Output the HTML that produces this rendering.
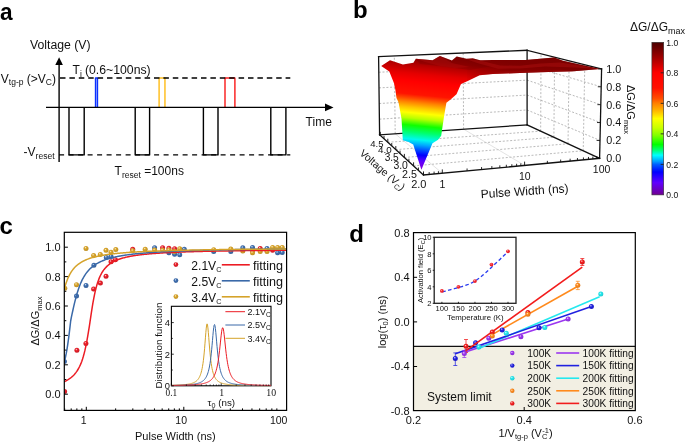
<!DOCTYPE html>
<html><head><meta charset="utf-8"><style>
html,body{margin:0;padding:0;background:#fff;}
svg{display:block;will-change:transform;}
</style></head><body>
<svg width="685" height="443" viewBox="0 0 685 443">
<defs>
<clipPath id="clipc"><rect x="64.3" y="232.3" width="222.3" height="178.09999999999997"/></clipPath>

<linearGradient id="gplat" gradientUnits="userSpaceOnUse" x1="462" y1="0" x2="510" y2="0">
<stop offset="0" stop-color="#7c0000" stop-opacity="0"/>
<stop offset="1" stop-color="#7c0000" stop-opacity="0.55"/>
</linearGradient>
<linearGradient id="gsurf" gradientUnits="userSpaceOnUse" x1="400" y1="40" x2="387.13" y2="168.7">
<stop offset="0.0000" stop-color="#760000"/>
<stop offset="0.0923" stop-color="#820000"/>
<stop offset="0.1385" stop-color="#920000"/>
<stop offset="0.1846" stop-color="#b80000"/>
<stop offset="0.2462" stop-color="#e40000"/>
<stop offset="0.3077" stop-color="#ff0000"/>
<stop offset="0.4077" stop-color="#ff1400"/>
<stop offset="0.4385" stop-color="#ff4a00"/>
<stop offset="0.4692" stop-color="#ff8400"/>
<stop offset="0.5077" stop-color="#ffc400"/>
<stop offset="0.5500" stop-color="#ffff00"/>
<stop offset="0.5923" stop-color="#b8ff00"/>
<stop offset="0.6462" stop-color="#10ff00"/>
<stop offset="0.7000" stop-color="#00ff70"/>
<stop offset="0.7538" stop-color="#00f8f0"/>
<stop offset="0.7923" stop-color="#00a8ff"/>
<stop offset="0.8308" stop-color="#0050ff"/>
<stop offset="0.8692" stop-color="#0000ff"/>
<stop offset="0.9154" stop-color="#5a00ff"/>
<stop offset="0.9692" stop-color="#8000e0"/>
</linearGradient>
<linearGradient id="gbar" x1="0" y1="0" x2="0" y2="1">
<stop offset="0" stop-color="#4a0000"/>
<stop offset="0.1" stop-color="#a00000"/>
<stop offset="0.2" stop-color="#ff0000"/>
<stop offset="0.3" stop-color="#ff1000"/>
<stop offset="0.37" stop-color="#ff5000"/>
<stop offset="0.4" stop-color="#ff8000"/>
<stop offset="0.45" stop-color="#ffb800"/>
<stop offset="0.5" stop-color="#ffff00"/>
<stop offset="0.56" stop-color="#c8ff00"/>
<stop offset="0.61" stop-color="#80ff00"/>
<stop offset="0.67" stop-color="#00ff00"/>
<stop offset="0.71" stop-color="#00ff80"/>
<stop offset="0.74" stop-color="#00ffff"/>
<stop offset="0.78" stop-color="#00a0ff"/>
<stop offset="0.8" stop-color="#0060ff"/>
<stop offset="0.85" stop-color="#0000ff"/>
<stop offset="0.92" stop-color="#6000ff"/>
<stop offset="1" stop-color="#700090"/>
</linearGradient>

<radialGradient id="bg0" cx="0.45" cy="0.45" r="0.6" fx="0.38" fy="0.32"><stop offset="0" stop-color="#fad2d4"/><stop offset="0.38" stop-color="#e8202a"/><stop offset="1" stop-color="#c71b24"/></radialGradient><radialGradient id="bg1" cx="0.45" cy="0.45" r="0.6" fx="0.38" fy="0.32"><stop offset="0" stop-color="#d8e2ef"/><stop offset="0.38" stop-color="#3f6fb0"/><stop offset="1" stop-color="#365f97"/></radialGradient><radialGradient id="bg2" cx="0.45" cy="0.45" r="0.6" fx="0.38" fy="0.32"><stop offset="0" stop-color="#f7edd4"/><stop offset="0.38" stop-color="#d9a52a"/><stop offset="1" stop-color="#ba8d24"/></radialGradient><radialGradient id="bg3" cx="0.45" cy="0.45" r="0.6" fx="0.38" fy="0.32"><stop offset="0" stop-color="#d2d2f8"/><stop offset="0.38" stop-color="#2020e0"/><stop offset="1" stop-color="#1b1bc0"/></radialGradient><radialGradient id="bg4" cx="0.45" cy="0.45" r="0.6" fx="0.38" fy="0.32"><stop offset="0" stop-color="#ebd6fc"/><stop offset="0.38" stop-color="#9b36f0"/><stop offset="1" stop-color="#852ece"/></radialGradient><radialGradient id="bg5" cx="0.45" cy="0.45" r="0.6" fx="0.38" fy="0.32"><stop offset="0" stop-color="#d3fafb"/><stop offset="0.38" stop-color="#25e8ee"/><stop offset="1" stop-color="#1fc7cc"/></radialGradient><radialGradient id="bg6" cx="0.45" cy="0.45" r="0.6" fx="0.38" fy="0.32"><stop offset="0" stop-color="#fcd1d1"/><stop offset="0.38" stop-color="#f21c1c"/><stop offset="1" stop-color="#d01818"/></radialGradient><radialGradient id="bg7" cx="0.45" cy="0.45" r="0.6" fx="0.38" fy="0.32"><stop offset="0" stop-color="#ffe7d1"/><stop offset="0.38" stop-color="#ff8a1c"/><stop offset="1" stop-color="#db7618"/></radialGradient>
</defs>
<rect width="685" height="443" fill="#fff"/>
<text x="0.00" y="20.20" font-size="24" text-anchor="start" font-weight="bold" fill="#000" font-family='"Liberation Sans", sans-serif' textLength="12.6" lengthAdjust="spacingAndGlyphs">a</text>
<text x="30.00" y="49.40" font-size="12" text-anchor="start" font-weight="normal" fill="#111" font-family='"Liberation Sans", sans-serif' textLength="60.6" lengthAdjust="spacingAndGlyphs">Voltage (V)</text>
<polyline points="95.55,107.40 95.55,78.00 97.45,78.00 97.45,107.40" fill="none" stroke="#0a30ff" stroke-width="1.45" stroke-linejoin="round" />
<polyline points="159.10,107.40 159.10,78.00 164.95,78.00 164.95,107.40" fill="none" stroke="#ffbe1e" stroke-width="1.45" stroke-linejoin="round" />
<polyline points="225.00,107.40 225.00,78.00 234.90,78.00 234.90,107.40" fill="none" stroke="#fa2020" stroke-width="1.45" stroke-linejoin="round" />
<line x1="59.10" y1="78.00" x2="290.30" y2="78.00" stroke="#000" stroke-width="1.4" stroke-dasharray="5.5 3.9" stroke-dashoffset="-0.9"/>
<line x1="59.10" y1="154.90" x2="290.30" y2="154.90" stroke="#000" stroke-width="1.4" stroke-dasharray="5.0 4.5"/>
<polyline points="69.00,107.40 69.00,154.90 84.20,154.90 84.20,107.40" fill="none" stroke="#000" stroke-width="1.4" stroke-linejoin="round" />
<polyline points="135.20,107.40 135.20,154.90 149.60,154.90 149.60,107.40" fill="none" stroke="#000" stroke-width="1.4" stroke-linejoin="round" />
<polyline points="203.40,107.40 203.40,154.90 218.00,154.90 218.00,107.40" fill="none" stroke="#000" stroke-width="1.4" stroke-linejoin="round" />
<polyline points="270.80,107.40 270.80,154.90 285.90,154.90 285.90,107.40" fill="none" stroke="#000" stroke-width="1.4" stroke-linejoin="round" />
<line x1="59.10" y1="63.00" x2="59.10" y2="162.00" stroke="#000" stroke-width="1.4" />
<polygon points="59.10,57.20 55.30,65.00 62.90,65.00" fill="#000" stroke="none" stroke-width="1.0" />
<line x1="46.00" y1="107.40" x2="326.00" y2="107.40" stroke="#000" stroke-width="1.4" />
<polygon points="333.50,107.40 325.00,103.60 325.00,111.20" fill="#000" stroke="none" stroke-width="1.0" />
<text x="0.8" y="82.6" font-size="12" fill="#111" font-family='"Liberation Sans", sans-serif'>V<tspan font-size="8.5" dy="2.4">tg-p</tspan><tspan dy="-2.4"> (&gt;V</tspan><tspan font-size="8.5" dy="2.4">C</tspan><tspan dy="-2.4">)</tspan></text>
<text x="72.6" y="74.3" font-size="12" fill="#111" font-family='"Liberation Sans", sans-serif'>T<tspan font-size="8.5" dy="2.4">i</tspan></text>
<text x="84.9" y="74.3" font-size="12" fill="#111" font-family='"Liberation Sans", sans-serif' textLength="65.8" lengthAdjust="spacingAndGlyphs">(0.6~100ns)</text>
<text x="23.6" y="156.0" font-size="12" fill="#111" font-family='"Liberation Sans", sans-serif'>-V<tspan font-size="8.5" dy="2.8">reset</tspan></text>
<text x="114.6" y="174.8" font-size="12" fill="#111" font-family='"Liberation Sans", sans-serif'>T<tspan font-size="8.5" dy="2.7">reset</tspan><tspan dy="-2.7"> =100ns</tspan></text>
<text x="305.60" y="126.30" font-size="12" text-anchor="start" font-weight="normal" fill="#111" font-family='"Liberation Sans", sans-serif' >Time</text>
<text x="-0.60" y="234.30" font-size="24" text-anchor="start" font-weight="bold" fill="#000" font-family='"Liberation Sans", sans-serif' >c</text>
<g clip-path="url(#clipc)">
<circle cx="64.60" cy="391.40" r="2.5" fill="url(#bg0)"/>
<circle cx="76.90" cy="350.20" r="2.5" fill="url(#bg0)"/>
<circle cx="85.90" cy="343.40" r="2.5" fill="url(#bg0)"/>
<circle cx="93.60" cy="289.00" r="2.5" fill="url(#bg0)"/>
<circle cx="100.40" cy="283.10" r="2.5" fill="url(#bg0)"/>
<circle cx="106.00" cy="276.30" r="2.5" fill="url(#bg0)"/>
<circle cx="111.00" cy="261.80" r="2.5" fill="url(#bg0)"/>
<circle cx="115.40" cy="259.70" r="2.5" fill="url(#bg0)"/>
<circle cx="132.70" cy="249.20" r="2.5" fill="url(#bg0)"/>
<circle cx="162.60" cy="247.70" r="2.5" fill="url(#bg0)"/>
<circle cx="168.90" cy="248.20" r="2.5" fill="url(#bg0)"/>
<circle cx="174.60" cy="248.70" r="2.5" fill="url(#bg0)"/>
<circle cx="252.50" cy="250.00" r="2.5" fill="url(#bg0)"/>
<circle cx="260.20" cy="248.40" r="2.5" fill="url(#bg0)"/>
<circle cx="267.00" cy="250.00" r="2.5" fill="url(#bg0)"/>
<circle cx="272.60" cy="250.30" r="2.5" fill="url(#bg0)"/>
<circle cx="64.40" cy="361.50" r="2.5" fill="url(#bg1)"/>
<circle cx="76.50" cy="296.10" r="2.5" fill="url(#bg1)"/>
<circle cx="86.00" cy="285.40" r="2.5" fill="url(#bg1)"/>
<circle cx="93.90" cy="265.30" r="2.5" fill="url(#bg1)"/>
<circle cx="106.30" cy="257.40" r="2.5" fill="url(#bg1)"/>
<circle cx="111.00" cy="256.60" r="2.5" fill="url(#bg1)"/>
<circle cx="154.60" cy="247.70" r="2.5" fill="url(#bg1)"/>
<circle cx="168.90" cy="252.80" r="2.5" fill="url(#bg1)"/>
<circle cx="174.60" cy="254.30" r="2.5" fill="url(#bg1)"/>
<circle cx="179.70" cy="254.80" r="2.5" fill="url(#bg1)"/>
<circle cx="184.30" cy="249.20" r="2.5" fill="url(#bg1)"/>
<circle cx="213.70" cy="251.50" r="2.5" fill="url(#bg1)"/>
<circle cx="230.80" cy="251.50" r="2.5" fill="url(#bg1)"/>
<circle cx="242.80" cy="247.80" r="2.5" fill="url(#bg1)"/>
<circle cx="252.50" cy="247.40" r="2.5" fill="url(#bg1)"/>
<circle cx="267.00" cy="248.40" r="2.5" fill="url(#bg1)"/>
<circle cx="277.60" cy="252.80" r="2.5" fill="url(#bg1)"/>
<circle cx="282.20" cy="252.50" r="2.5" fill="url(#bg1)"/>
<circle cx="64.80" cy="288.20" r="2.5" fill="url(#bg2)"/>
<circle cx="76.50" cy="284.70" r="2.5" fill="url(#bg2)"/>
<circle cx="86.00" cy="248.40" r="2.5" fill="url(#bg2)"/>
<circle cx="93.60" cy="255.50" r="2.5" fill="url(#bg2)"/>
<circle cx="100.30" cy="254.50" r="2.5" fill="url(#bg2)"/>
<circle cx="106.00" cy="250.30" r="2.5" fill="url(#bg2)"/>
<circle cx="111.00" cy="252.20" r="2.5" fill="url(#bg2)"/>
<circle cx="115.80" cy="249.50" r="2.5" fill="url(#bg2)"/>
<circle cx="132.70" cy="250.80" r="2.5" fill="url(#bg2)"/>
<circle cx="145.20" cy="249.20" r="2.5" fill="url(#bg2)"/>
<circle cx="154.60" cy="250.10" r="2.5" fill="url(#bg2)"/>
<circle cx="162.60" cy="250.30" r="2.5" fill="url(#bg2)"/>
<circle cx="168.90" cy="250.10" r="2.5" fill="url(#bg2)"/>
<circle cx="174.60" cy="251.40" r="2.5" fill="url(#bg2)"/>
<circle cx="179.70" cy="248.70" r="2.5" fill="url(#bg2)"/>
<circle cx="213.70" cy="249.70" r="2.5" fill="url(#bg2)"/>
<circle cx="230.80" cy="249.00" r="2.5" fill="url(#bg2)"/>
<circle cx="242.80" cy="250.90" r="2.5" fill="url(#bg2)"/>
<circle cx="252.50" cy="252.80" r="2.5" fill="url(#bg2)"/>
<circle cx="260.20" cy="251.50" r="2.5" fill="url(#bg2)"/>
<circle cx="267.00" cy="251.50" r="2.5" fill="url(#bg2)"/>
<circle cx="272.60" cy="247.40" r="2.5" fill="url(#bg2)"/>
<circle cx="277.60" cy="247.40" r="2.5" fill="url(#bg2)"/>
<circle cx="282.20" cy="247.40" r="2.5" fill="url(#bg2)"/>
<polyline points="63.96,381.81 64.70,381.47 65.45,381.10 66.19,380.72 66.93,380.31 67.68,379.88 68.42,379.42 69.17,378.93 69.91,378.41 70.66,377.85 71.40,377.25 72.14,376.62 72.89,375.93 73.63,375.19 74.38,374.40 75.12,373.53 75.87,372.60 76.61,371.58 77.35,370.48 78.10,369.27 78.84,367.94 79.59,366.49 80.33,364.88 81.07,363.11 81.82,361.15 82.56,358.98 83.31,356.57 84.05,353.89 84.80,350.93 85.54,347.66 86.28,344.07 87.03,340.15 87.77,335.93 88.52,331.44 89.26,326.76 90.01,321.97 90.75,316.92 91.49,311.95 92.24,307.19 92.98,302.72 93.73,298.59 94.47,294.82 95.21,291.40 95.96,288.33 96.70,285.57 97.45,283.10 98.19,280.89 98.94,278.90 99.68,277.11 100.42,275.50 101.17,274.04 101.91,272.72 102.66,271.52 103.40,270.42 104.14,269.42 104.89,268.50 105.63,267.65 106.38,266.87 107.12,266.15 107.87,265.48 108.61,264.86 109.35,264.27 110.10,263.73 110.84,263.23 111.59,262.75 112.33,262.30 113.08,261.89 113.82,261.49 114.56,261.12 115.31,260.76 116.05,260.43 116.80,260.11 117.54,259.81 118.28,259.53 119.03,259.26 119.77,259.00 120.52,258.75 121.26,258.52 122.01,258.29 122.75,258.08 123.49,257.87 124.24,257.68 124.98,257.49 125.73,257.31 126.47,257.13 127.22,256.96 127.96,256.80 128.70,256.65 129.45,256.50 130.19,256.36 130.94,256.22 131.68,256.08 132.42,255.95 133.17,255.83 133.91,255.71 134.66,255.59 135.40,255.48 136.15,255.37 136.89,255.26 137.63,255.16 138.38,255.06 139.12,254.96 139.87,254.87 140.61,254.78 141.35,254.69 142.10,254.60 142.84,254.52 143.59,254.44 144.33,254.36 145.08,254.28 145.82,254.20 146.56,254.13 147.31,254.06 148.05,253.99 148.80,253.92 149.54,253.86 150.29,253.79 151.03,253.73 151.77,253.67 152.52,253.61 153.26,253.55 154.01,253.49 154.75,253.44 155.49,253.38 156.24,253.33 156.98,253.28 157.73,253.22 158.47,253.17 159.22,253.13 159.96,253.08 160.70,253.03 161.45,252.98 162.19,252.94 162.94,252.90 163.68,252.85 164.43,252.81 165.17,252.77 165.91,252.73 166.66,252.69 167.40,252.65 168.15,252.61 168.89,252.57 169.63,252.54 170.38,252.50 171.12,252.46 171.87,252.43 172.61,252.39 173.36,252.36 174.10,252.33 174.84,252.29 175.59,252.26 176.33,252.23 177.08,252.20 177.82,252.17 178.56,252.14 179.31,252.11 180.05,252.08 180.80,252.05 181.54,252.02 182.29,252.00 183.03,251.97 183.77,251.94 184.52,251.92 185.26,251.89 186.01,251.87 186.75,251.84 187.50,251.82 188.24,251.79 188.98,251.77 189.73,251.74 190.47,251.72 191.22,251.70 191.96,251.67 192.70,251.65 193.45,251.63 194.19,251.61 194.94,251.59 195.68,251.57 196.43,251.55 197.17,251.53 197.91,251.51 198.66,251.49 199.40,251.47 200.15,251.45 200.89,251.43 201.64,251.41 202.38,251.39 203.12,251.37 203.87,251.35 204.61,251.34 205.36,251.32 206.10,251.30 206.84,251.28 207.59,251.27 208.33,251.25 209.08,251.23 209.82,251.22 210.57,251.20 211.31,251.18 212.05,251.17 212.80,251.15 213.54,251.14 214.29,251.12 215.03,251.11 215.77,251.09 216.52,251.08 217.26,251.06 218.01,251.05 218.75,251.04 219.50,251.02 220.24,251.01 220.98,250.99 221.73,250.98 222.47,250.97 223.22,250.95 223.96,250.94 224.71,250.93 225.45,250.91 226.19,250.90 226.94,250.89 227.68,250.88 228.43,250.86 229.17,250.85 229.91,250.84 230.66,250.83 231.40,250.82 232.15,250.81 232.89,250.79 233.64,250.78 234.38,250.77 235.12,250.76 235.87,250.75 236.61,250.74 237.36,250.73 238.10,250.72 238.85,250.71 239.59,250.70 240.33,250.69 241.08,250.68 241.82,250.66 242.57,250.65 243.31,250.64 244.05,250.64 244.80,250.63 245.54,250.62 246.29,250.61 247.03,250.60 247.78,250.59 248.52,250.58 249.26,250.57 250.01,250.56 250.75,250.55 251.50,250.54 252.24,250.53 252.98,250.52 253.73,250.51 254.47,250.51 255.22,250.50 255.96,250.49 256.71,250.48 257.45,250.47 258.19,250.46 258.94,250.46 259.68,250.45 260.43,250.44 261.17,250.43 261.92,250.42 262.66,250.42 263.40,250.41 264.15,250.40 264.89,250.39 265.64,250.38 266.38,250.38 267.12,250.37 267.87,250.36 268.61,250.35 269.36,250.35 270.10,250.34 270.85,250.33 271.59,250.33 272.33,250.32 273.08,250.31 273.82,250.31 274.57,250.30 275.31,250.29 276.06,250.28 276.80,250.28 277.54,250.27 278.29,250.26 279.03,250.26 279.78,250.25 280.52,250.25 281.26,250.24 282.01,250.23 282.75,250.23 283.50,250.22 284.24,250.21 284.99,250.21 285.73,250.20 286.47,250.20 287.22,250.19" fill="none" stroke="#ec1c24" stroke-width="1.5" stroke-linejoin="round" />
<polyline points="63.96,363.05 64.70,360.36 65.45,357.26 66.19,353.70 66.93,349.61 67.68,344.94 68.42,339.67 69.17,333.84 69.91,327.55 70.66,320.99 71.40,317.21 72.14,313.68 72.89,310.23 73.63,306.89 74.38,303.69 75.12,300.64 75.87,297.76 76.61,295.05 77.35,292.52 78.10,290.17 78.84,287.98 79.59,285.94 80.33,284.06 81.07,282.31 81.82,280.69 82.56,279.19 83.31,277.80 84.05,276.50 84.80,275.30 85.54,274.18 86.28,273.13 87.03,272.16 87.77,271.25 88.52,270.39 89.26,269.59 90.01,268.84 90.75,268.13 91.49,267.46 92.24,266.83 92.98,266.24 93.73,265.68 94.47,265.15 95.21,264.64 95.96,264.17 96.70,263.71 97.45,263.28 98.19,262.87 98.94,262.48 99.68,262.10 100.42,261.75 101.17,261.41 101.91,261.08 102.66,260.77 103.40,260.47 104.14,260.18 104.89,259.90 105.63,259.64 106.38,259.39 107.12,259.14 107.87,258.90 108.61,258.68 109.35,258.46 110.10,258.25 110.84,258.04 111.59,257.85 112.33,257.66 113.08,257.47 113.82,257.30 114.56,257.12 115.31,256.96 116.05,256.80 116.80,256.64 117.54,256.49 118.28,256.34 119.03,256.20 119.77,256.06 120.52,255.93 121.26,255.80 122.01,255.67 122.75,255.55 123.49,255.43 124.24,255.31 124.98,255.20 125.73,255.08 126.47,254.98 127.22,254.87 127.96,254.77 128.70,254.67 129.45,254.57 130.19,254.48 130.94,254.38 131.68,254.29 132.42,254.20 133.17,254.12 133.91,254.03 134.66,253.95 135.40,253.87 136.15,253.79 136.89,253.71 137.63,253.64 138.38,253.56 139.12,253.49 139.87,253.42 140.61,253.35 141.35,253.28 142.10,253.22 142.84,253.15 143.59,253.09 144.33,253.03 145.08,252.97 145.82,252.91 146.56,252.85 147.31,252.79 148.05,252.73 148.80,252.68 149.54,252.62 150.29,252.57 151.03,252.52 151.77,252.46 152.52,252.41 153.26,252.36 154.01,252.31 154.75,252.27 155.49,252.22 156.24,252.17 156.98,252.13 157.73,252.08 158.47,252.04 159.22,251.99 159.96,251.95 160.70,251.91 161.45,251.87 162.19,251.83 162.94,251.79 163.68,251.75 164.43,251.71 165.17,251.67 165.91,251.63 166.66,251.60 167.40,251.56 168.15,251.52 168.89,251.49 169.63,251.45 170.38,251.42 171.12,251.39 171.87,251.35 172.61,251.32 173.36,251.29 174.10,251.26 174.84,251.22 175.59,251.19 176.33,251.16 177.08,251.13 177.82,251.10 178.56,251.07 179.31,251.05 180.05,251.02 180.80,250.99 181.54,250.96 182.29,250.93 183.03,250.91 183.77,250.88 184.52,250.85 185.26,250.83 186.01,250.80 186.75,250.78 187.50,250.75 188.24,250.73 188.98,250.70 189.73,250.68 190.47,250.65 191.22,250.63 191.96,250.61 192.70,250.58 193.45,250.56 194.19,250.54 194.94,250.52 195.68,250.50 196.43,250.47 197.17,250.45 197.91,250.43 198.66,250.41 199.40,250.39 200.15,250.37 200.89,250.35 201.64,250.33 202.38,250.31 203.12,250.29 203.87,250.27 204.61,250.25 205.36,250.23 206.10,250.21 206.84,250.20 207.59,250.18 208.33,250.16 209.08,250.14 209.82,250.12 210.57,250.11 211.31,250.09 212.05,250.07 212.80,250.06 213.54,250.04 214.29,250.02 215.03,250.01 215.77,249.99 216.52,249.97 217.26,249.96 218.01,249.94 218.75,249.93 219.50,249.91 220.24,249.90 220.98,249.88 221.73,249.87 222.47,249.85 223.22,249.84 223.96,249.82 224.71,249.81 225.45,249.79 226.19,249.78 226.94,249.76 227.68,249.75 228.43,249.74 229.17,249.72 229.91,249.71 230.66,249.70 231.40,249.68 232.15,249.67 232.89,249.66 233.64,249.64 234.38,249.63 235.12,249.62 235.87,249.61 236.61,249.59 237.36,249.58 238.10,249.57 238.85,249.56 239.59,249.55 240.33,249.53 241.08,249.52 241.82,249.51 242.57,249.50 243.31,249.49 244.05,249.48 244.80,249.46 245.54,249.45 246.29,249.44 247.03,249.43 247.78,249.42 248.52,249.41 249.26,249.40 250.01,249.39 250.75,249.38 251.50,249.37 252.24,249.36 252.98,249.35 253.73,249.34 254.47,249.33 255.22,249.32 255.96,249.31 256.71,249.30 257.45,249.29 258.19,249.28 258.94,249.27 259.68,249.26 260.43,249.25 261.17,249.24 261.92,249.23 262.66,249.22 263.40,249.21 264.15,249.20 264.89,249.19 265.64,249.18 266.38,249.17 267.12,249.17 267.87,249.16 268.61,249.15 269.36,249.14 270.10,249.13 270.85,249.12 271.59,249.11 272.33,249.11 273.08,249.10 273.82,249.09 274.57,249.08 275.31,249.07 276.06,249.06 276.80,249.06 277.54,249.05 278.29,249.04 279.03,249.03 279.78,249.03 280.52,249.02 281.26,249.01 282.01,249.00 282.75,248.99 283.50,248.99 284.24,248.98 284.99,248.97 285.73,248.96 286.47,248.96 287.22,248.95" fill="none" stroke="#3a69a8" stroke-width="1.5" stroke-linejoin="round" />
<polyline points="63.96,290.29 64.70,287.52 65.45,285.01 66.19,282.74 66.93,280.68 67.68,278.81 68.42,277.11 69.17,275.56 69.91,274.15 70.66,272.86 71.40,271.68 72.14,270.59 72.89,269.59 73.63,268.67 74.38,267.82 75.12,267.03 75.87,266.29 76.61,265.61 77.35,264.97 78.10,264.37 78.84,263.81 79.59,263.28 80.33,262.79 81.07,262.32 81.82,261.88 82.56,261.47 83.31,261.08 84.05,260.71 84.80,260.35 85.54,260.02 86.28,259.70 87.03,259.40 87.77,259.11 88.52,258.84 89.26,258.57 90.01,258.32 90.75,258.08 91.49,257.85 92.24,257.63 92.98,257.42 93.73,257.22 94.47,257.02 95.21,256.84 95.96,256.66 96.70,256.48 97.45,256.31 98.19,256.15 98.94,256.00 99.68,255.85 100.42,255.70 101.17,255.56 101.91,255.43 102.66,255.30 103.40,255.17 104.14,255.05 104.89,254.93 105.63,254.81 106.38,254.70 107.12,254.59 107.87,254.48 108.61,254.38 109.35,254.28 110.10,254.19 110.84,254.09 111.59,254.00 112.33,253.91 113.08,253.82 113.82,253.74 114.56,253.66 115.31,253.58 116.05,253.50 116.80,253.42 117.54,253.35 118.28,253.28 119.03,253.21 119.77,253.14 120.52,253.07 121.26,253.00 122.01,252.94 122.75,252.88 123.49,252.82 124.24,252.76 124.98,252.70 125.73,252.64 126.47,252.58 127.22,252.53 127.96,252.47 128.70,252.42 129.45,252.37 130.19,252.32 130.94,252.27 131.68,252.22 132.42,252.17 133.17,252.13 133.91,252.08 134.66,252.04 135.40,251.99 136.15,251.95 136.89,251.91 137.63,251.86 138.38,251.82 139.12,251.78 139.87,251.74 140.61,251.71 141.35,251.67 142.10,251.63 142.84,251.59 143.59,251.56 144.33,251.52 145.08,251.49 145.82,251.45 146.56,251.42 147.31,251.39 148.05,251.35 148.80,251.32 149.54,251.29 150.29,251.26 151.03,251.23 151.77,251.20 152.52,251.17 153.26,251.14 154.01,251.11 154.75,251.08 155.49,251.06 156.24,251.03 156.98,251.00 157.73,250.97 158.47,250.95 159.22,250.92 159.96,250.90 160.70,250.87 161.45,250.85 162.19,250.82 162.94,250.80 163.68,250.78 164.43,250.75 165.17,250.73 165.91,250.71 166.66,250.68 167.40,250.66 168.15,250.64 168.89,250.62 169.63,250.60 170.38,250.58 171.12,250.56 171.87,250.54 172.61,250.52 173.36,250.50 174.10,250.48 174.84,250.46 175.59,250.44 176.33,250.42 177.08,250.40 177.82,250.38 178.56,250.36 179.31,250.35 180.05,250.33 180.80,250.31 181.54,250.29 182.29,250.28 183.03,250.26 183.77,250.24 184.52,250.23 185.26,250.21 186.01,250.19 186.75,250.18 187.50,250.16 188.24,250.15 188.98,250.13 189.73,250.12 190.47,250.10 191.22,250.09 191.96,250.07 192.70,250.06 193.45,250.04 194.19,250.03 194.94,250.01 195.68,250.00 196.43,249.99 197.17,249.97 197.91,249.96 198.66,249.95 199.40,249.93 200.15,249.92 200.89,249.91 201.64,249.89 202.38,249.88 203.12,249.87 203.87,249.86 204.61,249.84 205.36,249.83 206.10,249.82 206.84,249.81 207.59,249.80 208.33,249.78 209.08,249.77 209.82,249.76 210.57,249.75 211.31,249.74 212.05,249.73 212.80,249.72 213.54,249.71 214.29,249.69 215.03,249.68 215.77,249.67 216.52,249.66 217.26,249.65 218.01,249.64 218.75,249.63 219.50,249.62 220.24,249.61 220.98,249.60 221.73,249.59 222.47,249.58 223.22,249.57 223.96,249.56 224.71,249.55 225.45,249.54 226.19,249.53 226.94,249.53 227.68,249.52 228.43,249.51 229.17,249.50 229.91,249.49 230.66,249.48 231.40,249.47 232.15,249.46 232.89,249.45 233.64,249.45 234.38,249.44 235.12,249.43 235.87,249.42 236.61,249.41 237.36,249.40 238.10,249.40 238.85,249.39 239.59,249.38 240.33,249.37 241.08,249.36 241.82,249.36 242.57,249.35 243.31,249.34 244.05,249.33 244.80,249.33 245.54,249.32 246.29,249.31 247.03,249.30 247.78,249.30 248.52,249.29 249.26,249.28 250.01,249.27 250.75,249.27 251.50,249.26 252.24,249.25 252.98,249.25 253.73,249.24 254.47,249.23 255.22,249.23 255.96,249.22 256.71,249.21 257.45,249.21 258.19,249.20 258.94,249.19 259.68,249.19 260.43,249.18 261.17,249.17 261.92,249.17 262.66,249.16 263.40,249.15 264.15,249.15 264.89,249.14 265.64,249.14 266.38,249.13 267.12,249.12 267.87,249.12 268.61,249.11 269.36,249.11 270.10,249.10 270.85,249.09 271.59,249.09 272.33,249.08 273.08,249.08 273.82,249.07 274.57,249.07 275.31,249.06 276.06,249.05 276.80,249.05 277.54,249.04 278.29,249.04 279.03,249.03 279.78,249.03 280.52,249.02 281.26,249.02 282.01,249.01 282.75,249.01 283.50,249.00 284.24,249.00 284.99,248.99 285.73,248.99 286.47,248.98 287.22,248.98" fill="none" stroke="#d5a32a" stroke-width="1.5" stroke-linejoin="round" />
</g>
<rect x="64.3" y="232.3" width="222.3" height="178.09999999999997" fill="none" stroke="#000" stroke-width="1.2"/>
<line x1="64.30" y1="394.20" x2="67.90" y2="394.20" stroke="#000" stroke-width="1.0" />
<line x1="64.30" y1="379.50" x2="66.30" y2="379.50" stroke="#000" stroke-width="1.0" />
<line x1="64.30" y1="364.80" x2="67.90" y2="364.80" stroke="#000" stroke-width="1.0" />
<line x1="64.30" y1="350.10" x2="66.30" y2="350.10" stroke="#000" stroke-width="1.0" />
<line x1="64.30" y1="335.40" x2="67.90" y2="335.40" stroke="#000" stroke-width="1.0" />
<line x1="64.30" y1="320.70" x2="66.30" y2="320.70" stroke="#000" stroke-width="1.0" />
<line x1="64.30" y1="306.00" x2="67.90" y2="306.00" stroke="#000" stroke-width="1.0" />
<line x1="64.30" y1="291.30" x2="66.30" y2="291.30" stroke="#000" stroke-width="1.0" />
<line x1="64.30" y1="276.60" x2="67.90" y2="276.60" stroke="#000" stroke-width="1.0" />
<line x1="64.30" y1="261.90" x2="66.30" y2="261.90" stroke="#000" stroke-width="1.0" />
<line x1="64.30" y1="247.20" x2="67.90" y2="247.20" stroke="#000" stroke-width="1.0" />
<text x="60.60" y="398.10" font-size="11" text-anchor="end" font-weight="normal" fill="#111" font-family='"Liberation Sans", sans-serif' >0.0</text>
<text x="60.60" y="368.70" font-size="11" text-anchor="end" font-weight="normal" fill="#111" font-family='"Liberation Sans", sans-serif' >0.2</text>
<text x="60.60" y="339.30" font-size="11" text-anchor="end" font-weight="normal" fill="#111" font-family='"Liberation Sans", sans-serif' >0.4</text>
<text x="60.60" y="309.90" font-size="11" text-anchor="end" font-weight="normal" fill="#111" font-family='"Liberation Sans", sans-serif' >0.6</text>
<text x="60.60" y="280.50" font-size="11" text-anchor="end" font-weight="normal" fill="#111" font-family='"Liberation Sans", sans-serif' >0.8</text>
<text x="60.60" y="251.10" font-size="11" text-anchor="end" font-weight="normal" fill="#111" font-family='"Liberation Sans", sans-serif' >1.0</text>
<line x1="64.67" y1="410.40" x2="64.67" y2="408.40" stroke="#000" stroke-width="1.0" />
<line x1="71.20" y1="410.40" x2="71.20" y2="408.40" stroke="#000" stroke-width="1.0" />
<line x1="76.85" y1="410.40" x2="76.85" y2="408.40" stroke="#000" stroke-width="1.0" />
<line x1="81.84" y1="410.40" x2="81.84" y2="408.40" stroke="#000" stroke-width="1.0" />
<line x1="86.30" y1="410.40" x2="86.30" y2="406.80" stroke="#000" stroke-width="1.0" />
<line x1="115.65" y1="410.40" x2="115.65" y2="408.40" stroke="#000" stroke-width="1.0" />
<line x1="132.82" y1="410.40" x2="132.82" y2="408.40" stroke="#000" stroke-width="1.0" />
<line x1="145.00" y1="410.40" x2="145.00" y2="408.40" stroke="#000" stroke-width="1.0" />
<line x1="154.45" y1="410.40" x2="154.45" y2="408.40" stroke="#000" stroke-width="1.0" />
<line x1="162.17" y1="410.40" x2="162.17" y2="408.40" stroke="#000" stroke-width="1.0" />
<line x1="168.70" y1="410.40" x2="168.70" y2="408.40" stroke="#000" stroke-width="1.0" />
<line x1="174.35" y1="410.40" x2="174.35" y2="408.40" stroke="#000" stroke-width="1.0" />
<line x1="179.34" y1="410.40" x2="179.34" y2="408.40" stroke="#000" stroke-width="1.0" />
<line x1="183.80" y1="410.40" x2="183.80" y2="406.80" stroke="#000" stroke-width="1.0" />
<line x1="213.15" y1="410.40" x2="213.15" y2="408.40" stroke="#000" stroke-width="1.0" />
<line x1="230.32" y1="410.40" x2="230.32" y2="408.40" stroke="#000" stroke-width="1.0" />
<line x1="242.50" y1="410.40" x2="242.50" y2="408.40" stroke="#000" stroke-width="1.0" />
<line x1="251.95" y1="410.40" x2="251.95" y2="408.40" stroke="#000" stroke-width="1.0" />
<line x1="259.67" y1="410.40" x2="259.67" y2="408.40" stroke="#000" stroke-width="1.0" />
<line x1="266.20" y1="410.40" x2="266.20" y2="408.40" stroke="#000" stroke-width="1.0" />
<line x1="271.85" y1="410.40" x2="271.85" y2="408.40" stroke="#000" stroke-width="1.0" />
<line x1="276.84" y1="410.40" x2="276.84" y2="408.40" stroke="#000" stroke-width="1.0" />
<text x="83.70" y="424.30" font-size="10.5" text-anchor="middle" font-weight="normal" fill="#111" font-family='"Liberation Sans", sans-serif' >1</text>
<text x="181.20" y="424.30" font-size="10.5" text-anchor="middle" font-weight="normal" fill="#111" font-family='"Liberation Sans", sans-serif' >10</text>
<text x="278.70" y="424.30" font-size="10.5" text-anchor="middle" font-weight="normal" fill="#111" font-family='"Liberation Sans", sans-serif' >100</text>
<text x="135.00" y="440.20" font-size="11" text-anchor="start" font-weight="normal" fill="#111" font-family='"Liberation Sans", sans-serif' >Pulse Width (ns)</text>
<text transform="translate(39.2,345.6) rotate(-90)" font-size="11" fill="#111" font-family='"Liberation Sans", sans-serif'>ΔG/ΔG<tspan font-size="7.5" dy="2.5">max</tspan></text>
<circle cx="175.90" cy="264.60" r="2.4" fill="url(#bg0)"/>
<line x1="221.80" y1="264.80" x2="249.80" y2="264.80" stroke="#ec1c24" stroke-width="1.6" />
<text x="191.3" y="269.50" font-size="12.1" fill="#111" font-family='"Liberation Sans", sans-serif'>2.1V<tspan font-size="7.2" dy="2.5">C</tspan></text>
<text x="252.90" y="269.50" font-size="12.6" text-anchor="start" font-weight="normal" fill="#111" font-family='"Liberation Sans", sans-serif' >fitting</text>
<circle cx="175.90" cy="280.60" r="2.4" fill="url(#bg1)"/>
<line x1="221.80" y1="280.80" x2="249.80" y2="280.80" stroke="#3a69a8" stroke-width="1.6" />
<text x="191.3" y="285.50" font-size="12.1" fill="#111" font-family='"Liberation Sans", sans-serif'>2.5V<tspan font-size="7.2" dy="2.5">C</tspan></text>
<text x="252.90" y="285.50" font-size="12.6" text-anchor="start" font-weight="normal" fill="#111" font-family='"Liberation Sans", sans-serif' >fitting</text>
<circle cx="175.90" cy="296.60" r="2.4" fill="url(#bg2)"/>
<line x1="221.80" y1="296.80" x2="249.80" y2="296.80" stroke="#d5a32a" stroke-width="1.6" />
<text x="191.3" y="301.50" font-size="12.1" fill="#111" font-family='"Liberation Sans", sans-serif'>3.4V<tspan font-size="7.2" dy="2.5">C</tspan></text>
<text x="252.90" y="301.50" font-size="12.6" text-anchor="start" font-weight="normal" fill="#111" font-family='"Liberation Sans", sans-serif' >fitting</text>
<rect x="171.4" y="306.3" width="99.6" height="79.5" fill="#fff" stroke="#000" stroke-width="1.1"/>
<polyline points="171.40,385.34 171.81,385.33 172.23,385.31 172.65,385.30 173.06,385.29 173.47,385.28 173.89,385.26 174.31,385.25 174.72,385.24 175.14,385.22 175.55,385.21 175.97,385.19 176.38,385.18 176.80,385.16 177.21,385.14 177.62,385.12 178.04,385.10 178.46,385.08 178.87,385.06 179.28,385.04 179.70,385.02 180.12,384.99 180.53,384.97 180.94,384.94 181.36,384.91 181.78,384.89 182.19,384.86 182.61,384.82 183.02,384.79 183.44,384.76 183.85,384.72 184.27,384.68 184.68,384.64 185.09,384.59 185.51,384.55 185.93,384.50 186.34,384.45 186.75,384.39 187.17,384.34 187.59,384.28 188.00,384.21 188.42,384.14 188.83,384.07 189.25,383.99 189.66,383.90 190.08,383.81 190.49,383.72 190.91,383.61 191.32,383.50 191.74,383.38 192.15,383.25 192.56,383.11 192.98,382.95 193.40,382.79 193.81,382.60 194.22,382.41 194.64,382.19 195.06,381.95 195.47,381.69 195.88,381.40 196.30,381.09 196.72,380.73 197.13,380.34 197.55,379.90 197.96,379.41 198.38,378.86 198.79,378.23 199.21,377.53 199.62,376.72 200.03,375.80 200.45,374.74 200.87,373.52 201.28,372.11 201.69,370.47 202.11,368.55 202.53,366.31 202.94,363.69 203.36,360.62 203.77,357.04 204.19,352.93 204.60,348.27 205.01,343.16 205.43,337.80 205.84,332.59 206.26,328.10 206.68,325.01 207.09,323.86 207.50,324.90 207.92,327.91 208.34,332.35 208.75,337.54 209.17,342.90 209.58,348.03 210.00,352.72 210.41,356.86 210.82,360.46 211.24,363.55 211.66,366.19 212.07,368.45 212.49,370.38 212.90,372.04 213.31,373.46 213.73,374.69 214.15,375.75 214.56,376.68 214.98,377.49 215.39,378.20 215.81,378.83 216.22,379.39 216.63,379.88 217.05,380.32 217.47,380.71 217.88,381.07 218.30,381.39 218.71,381.68 219.12,381.94 219.54,382.18 219.95,382.40 220.37,382.59 220.78,382.78 221.20,382.94 221.62,383.10 222.03,383.24 222.44,383.37 222.86,383.49 223.28,383.61 223.69,383.71 224.11,383.81 224.52,383.90 224.94,383.98 225.35,384.06 225.76,384.14 226.18,384.21 226.59,384.27 227.01,384.33 227.43,384.39 227.84,384.45 228.25,384.50 228.67,384.55 229.09,384.59 229.50,384.64 229.91,384.68 230.33,384.72 230.75,384.75 231.16,384.79 231.57,384.82 231.99,384.85 232.41,384.88 232.82,384.91 233.24,384.94 233.65,384.97 234.06,384.99 234.48,385.02 234.90,385.04 235.31,385.06 235.73,385.08 236.14,385.10 236.56,385.12 236.97,385.14 237.38,385.16 237.80,385.17 238.22,385.19 238.63,385.21 239.05,385.22 239.46,385.24 239.88,385.25 240.29,385.26 240.71,385.28 241.12,385.29 241.53,385.30 241.95,385.31 242.37,385.33 242.78,385.34 243.19,385.35 243.61,385.36 244.03,385.37 244.44,385.38 244.86,385.39 245.27,385.39 245.69,385.40 246.10,385.41 246.51,385.42 246.93,385.43 247.34,385.43 247.76,385.44 248.18,385.45 248.59,385.46 249.00,385.46 249.42,385.47 249.83,385.48 250.25,385.48 250.67,385.49 251.08,385.49 251.50,385.50 251.91,385.50 252.32,385.51 252.74,385.52 253.15,385.52 253.57,385.53 253.99,385.53 254.40,385.54 254.81,385.54 255.23,385.54 255.64,385.55 256.06,385.55 256.48,385.56 256.89,385.56 257.31,385.56 257.72,385.57 258.13,385.57 258.55,385.58 258.97,385.58 259.38,385.58 259.80,385.59 260.21,385.59 260.62,385.59 261.04,385.60 261.45,385.60 261.87,385.60 262.28,385.61 262.70,385.61 263.12,385.61 263.53,385.61 263.94,385.62 264.36,385.62 264.77,385.62 265.19,385.62 265.61,385.63 266.02,385.63 266.44,385.63 266.85,385.63 267.26,385.64 267.68,385.64 268.10,385.64 268.51,385.64 268.93,385.64 269.34,385.65 269.75,385.65 270.17,385.65 270.58,385.65 271.00,385.65" fill="none" stroke="#d5a32a" stroke-width="1.0" stroke-linejoin="round" />
<polyline points="171.40,385.42 171.81,385.41 172.23,385.41 172.65,385.40 173.06,385.39 173.47,385.38 173.89,385.37 174.31,385.36 174.72,385.36 175.14,385.35 175.55,385.34 175.97,385.33 176.38,385.32 176.80,385.31 177.21,385.29 177.62,385.28 178.04,385.27 178.46,385.26 178.87,385.25 179.28,385.23 179.70,385.22 180.12,385.21 180.53,385.19 180.94,385.18 181.36,385.16 181.78,385.15 182.19,385.13 182.61,385.11 183.02,385.09 183.44,385.07 183.85,385.05 184.27,385.03 184.68,385.01 185.09,384.99 185.51,384.97 185.93,384.94 186.34,384.92 186.75,384.89 187.17,384.87 187.59,384.84 188.00,384.81 188.42,384.78 188.83,384.74 189.25,384.71 189.66,384.67 190.08,384.63 190.49,384.59 190.91,384.55 191.32,384.51 191.74,384.46 192.15,384.41 192.56,384.36 192.98,384.31 193.40,384.25 193.81,384.19 194.22,384.12 194.64,384.05 195.06,383.98 195.47,383.90 195.88,383.82 196.30,383.73 196.72,383.64 197.13,383.54 197.55,383.43 197.96,383.31 198.38,383.19 198.79,383.06 199.21,382.91 199.62,382.76 200.03,382.59 200.45,382.41 200.87,382.21 201.28,382.00 201.69,381.76 202.11,381.51 202.53,381.23 202.94,380.92 203.36,380.58 203.77,380.21 204.19,379.79 204.60,379.33 205.01,378.82 205.43,378.25 205.84,377.60 206.26,376.88 206.68,376.06 207.09,375.14 207.50,374.08 207.92,372.88 208.34,371.50 208.75,369.92 209.17,368.09 209.58,365.99 210.00,363.55 210.41,360.75 210.82,357.53 211.24,353.86 211.66,349.74 212.07,345.22 212.49,340.43 212.90,335.61 213.31,331.14 213.73,327.49 214.15,325.16 214.56,324.52 214.98,325.67 215.39,328.43 215.81,332.37 216.22,336.99 216.63,341.83 217.05,346.57 217.47,350.98 217.88,354.97 218.30,358.50 218.71,361.60 219.12,364.29 219.54,366.63 219.95,368.65 220.37,370.40 220.78,371.92 221.20,373.25 221.62,374.40 222.03,375.42 222.44,376.31 222.86,377.10 223.28,377.80 223.69,378.42 224.11,378.97 224.52,379.47 224.94,379.92 225.35,380.32 225.76,380.68 226.18,381.01 226.59,381.31 227.01,381.58 227.43,381.83 227.84,382.06 228.25,382.27 228.67,382.46 229.09,382.64 229.50,382.80 229.91,382.96 230.33,383.10 230.75,383.23 231.16,383.35 231.57,383.46 231.99,383.57 232.41,383.67 232.82,383.76 233.24,383.85 233.65,383.93 234.06,384.00 234.48,384.07 234.90,384.14 235.31,384.21 235.73,384.27 236.14,384.32 236.56,384.38 236.97,384.43 237.38,384.48 237.80,384.52 238.22,384.57 238.63,384.61 239.05,384.65 239.46,384.68 239.88,384.72 240.29,384.75 240.71,384.79 241.12,384.82 241.53,384.85 241.95,384.87 242.37,384.90 242.78,384.93 243.19,384.95 243.61,384.97 244.03,385.00 244.44,385.02 244.86,385.04 245.27,385.06 245.69,385.08 246.10,385.10 246.51,385.12 246.93,385.13 247.34,385.15 247.76,385.17 248.18,385.18 248.59,385.20 249.00,385.21 249.42,385.22 249.83,385.24 250.25,385.25 250.67,385.26 251.08,385.27 251.50,385.29 251.91,385.30 252.32,385.31 252.74,385.32 253.15,385.33 253.57,385.34 253.99,385.35 254.40,385.36 254.81,385.37 255.23,385.38 255.64,385.38 256.06,385.39 256.48,385.40 256.89,385.41 257.31,385.42 257.72,385.42 258.13,385.43 258.55,385.44 258.97,385.44 259.38,385.45 259.80,385.46 260.21,385.46 260.62,385.47 261.04,385.47 261.45,385.48 261.87,385.49 262.28,385.49 262.70,385.50 263.12,385.50 263.53,385.51 263.94,385.51 264.36,385.52 264.77,385.52 265.19,385.53 265.61,385.53 266.02,385.53 266.44,385.54 266.85,385.54 267.26,385.55 267.68,385.55 268.10,385.55 268.51,385.56 268.93,385.56 269.34,385.57 269.75,385.57 270.17,385.57 270.58,385.58 271.00,385.58" fill="none" stroke="#3a69a8" stroke-width="1.0" stroke-linejoin="round" />
<polyline points="171.40,385.47 171.81,385.46 172.23,385.45 172.65,385.45 173.06,385.44 173.47,385.44 173.89,385.43 174.31,385.42 174.72,385.42 175.14,385.41 175.55,385.40 175.97,385.40 176.38,385.39 176.80,385.38 177.21,385.38 177.62,385.37 178.04,385.36 178.46,385.35 178.87,385.34 179.28,385.33 179.70,385.33 180.12,385.32 180.53,385.31 180.94,385.30 181.36,385.29 181.78,385.28 182.19,385.27 182.61,385.26 183.02,385.24 183.44,385.23 183.85,385.22 184.27,385.21 184.68,385.19 185.09,385.18 185.51,385.17 185.93,385.15 186.34,385.14 186.75,385.12 187.17,385.11 187.59,385.09 188.00,385.07 188.42,385.06 188.83,385.04 189.25,385.02 189.66,385.00 190.08,384.98 190.49,384.96 190.91,384.94 191.32,384.92 191.74,384.89 192.15,384.87 192.56,384.84 192.98,384.82 193.40,384.79 193.81,384.76 194.22,384.73 194.64,384.70 195.06,384.67 195.47,384.63 195.88,384.60 196.30,384.56 196.72,384.52 197.13,384.48 197.55,384.44 197.96,384.39 198.38,384.34 198.79,384.29 199.21,384.24 199.62,384.19 200.03,384.13 200.45,384.07 200.87,384.00 201.28,383.93 201.69,383.86 202.11,383.79 202.53,383.71 202.94,383.62 203.36,383.53 203.77,383.43 204.19,383.33 204.60,383.22 205.01,383.10 205.43,382.98 205.84,382.85 206.26,382.70 206.68,382.55 207.09,382.38 207.50,382.21 207.92,382.02 208.34,381.81 208.75,381.58 209.17,381.34 209.58,381.08 210.00,380.79 210.41,380.48 210.82,380.14 211.24,379.77 211.66,379.35 212.07,378.90 212.49,378.40 212.90,377.85 213.31,377.24 213.73,376.56 214.15,375.80 214.56,374.94 214.98,373.99 215.39,372.92 215.81,371.71 216.22,370.34 216.63,368.79 217.05,367.04 217.47,365.05 217.88,362.79 218.30,360.25 218.71,357.39 219.12,354.20 219.54,350.70 219.95,346.92 220.37,342.95 220.78,338.95 221.20,335.15 221.62,331.83 222.03,329.32 222.44,327.90 222.86,327.75 223.28,328.89 223.69,331.18 224.11,334.34 224.52,338.05 224.94,342.03 225.35,346.02 225.76,349.86 226.18,353.43 226.59,356.69 227.01,359.62 227.43,362.24 227.84,364.56 228.25,366.60 228.67,368.41 229.09,370.00 229.50,371.41 229.91,372.65 230.33,373.76 230.75,374.74 231.16,375.61 231.57,376.39 231.99,377.09 232.41,377.72 232.82,378.28 233.24,378.79 233.65,379.25 234.06,379.67 234.48,380.06 234.90,380.41 235.31,380.72 235.73,381.02 236.14,381.28 236.56,381.53 236.97,381.76 237.38,381.97 237.80,382.16 238.22,382.34 238.63,382.51 239.05,382.67 239.46,382.81 239.88,382.95 240.29,383.08 240.71,383.19 241.12,383.31 241.53,383.41 241.95,383.51 242.37,383.60 242.78,383.69 243.19,383.77 243.61,383.85 244.03,383.92 244.44,383.99 244.86,384.05 245.27,384.11 245.69,384.17 246.10,384.23 246.51,384.28 246.93,384.33 247.34,384.38 247.76,384.43 248.18,384.47 248.59,384.51 249.00,384.55 249.42,384.59 249.83,384.62 250.25,384.66 250.67,384.69 251.08,384.72 251.50,384.75 251.91,384.78 252.32,384.81 252.74,384.84 253.15,384.86 253.57,384.89 253.99,384.91 254.40,384.93 254.81,384.95 255.23,384.98 255.64,385.00 256.06,385.02 256.48,385.03 256.89,385.05 257.31,385.07 257.72,385.09 258.13,385.10 258.55,385.12 258.97,385.14 259.38,385.15 259.80,385.16 260.21,385.18 260.62,385.19 261.04,385.20 261.45,385.22 261.87,385.23 262.28,385.24 262.70,385.25 263.12,385.26 263.53,385.27 263.94,385.28 264.36,385.29 264.77,385.30 265.19,385.31 265.61,385.32 266.02,385.33 266.44,385.34 266.85,385.35 267.26,385.36 267.68,385.37 268.10,385.37 268.51,385.38 268.93,385.39 269.34,385.40 269.75,385.40 270.17,385.41 270.58,385.42 271.00,385.42" fill="none" stroke="#ec1c24" stroke-width="1.0" stroke-linejoin="round" />
<line x1="171.40" y1="385.80" x2="173.80" y2="385.80" stroke="#000" stroke-width="0.8" />
<line x1="171.40" y1="370.00" x2="172.80" y2="370.00" stroke="#000" stroke-width="0.8" />
<line x1="171.40" y1="354.20" x2="173.80" y2="354.20" stroke="#000" stroke-width="0.8" />
<line x1="171.40" y1="338.40" x2="172.80" y2="338.40" stroke="#000" stroke-width="0.8" />
<line x1="171.40" y1="322.60" x2="173.80" y2="322.60" stroke="#000" stroke-width="0.8" />
<text x="170.00" y="389.10" font-size="9.3" text-anchor="end" font-weight="normal" fill="#111" font-family='"Liberation Sans", sans-serif' >0</text>
<text x="170.00" y="357.50" font-size="9.3" text-anchor="end" font-weight="normal" fill="#111" font-family='"Liberation Sans", sans-serif' >2</text>
<text x="170.00" y="325.90" font-size="9.3" text-anchor="end" font-weight="normal" fill="#111" font-family='"Liberation Sans", sans-serif' >4</text>
<line x1="171.40" y1="385.80" x2="171.40" y2="383.40" stroke="#000" stroke-width="0.8" />
<line x1="186.39" y1="385.80" x2="186.39" y2="384.50" stroke="#000" stroke-width="0.8" />
<line x1="195.16" y1="385.80" x2="195.16" y2="384.50" stroke="#000" stroke-width="0.8" />
<line x1="201.38" y1="385.80" x2="201.38" y2="384.50" stroke="#000" stroke-width="0.8" />
<line x1="206.21" y1="385.80" x2="206.21" y2="384.50" stroke="#000" stroke-width="0.8" />
<line x1="210.15" y1="385.80" x2="210.15" y2="384.50" stroke="#000" stroke-width="0.8" />
<line x1="213.49" y1="385.80" x2="213.49" y2="384.50" stroke="#000" stroke-width="0.8" />
<line x1="216.37" y1="385.80" x2="216.37" y2="384.50" stroke="#000" stroke-width="0.8" />
<line x1="218.92" y1="385.80" x2="218.92" y2="384.50" stroke="#000" stroke-width="0.8" />
<line x1="221.20" y1="385.80" x2="221.20" y2="383.40" stroke="#000" stroke-width="0.8" />
<line x1="236.19" y1="385.80" x2="236.19" y2="384.50" stroke="#000" stroke-width="0.8" />
<line x1="244.96" y1="385.80" x2="244.96" y2="384.50" stroke="#000" stroke-width="0.8" />
<line x1="251.18" y1="385.80" x2="251.18" y2="384.50" stroke="#000" stroke-width="0.8" />
<line x1="256.01" y1="385.80" x2="256.01" y2="384.50" stroke="#000" stroke-width="0.8" />
<line x1="259.95" y1="385.80" x2="259.95" y2="384.50" stroke="#000" stroke-width="0.8" />
<line x1="263.29" y1="385.80" x2="263.29" y2="384.50" stroke="#000" stroke-width="0.8" />
<line x1="266.17" y1="385.80" x2="266.17" y2="384.50" stroke="#000" stroke-width="0.8" />
<line x1="268.72" y1="385.80" x2="268.72" y2="384.50" stroke="#000" stroke-width="0.8" />
<text x="171.30" y="395.80" font-size="9.3" text-anchor="middle" font-weight="normal" fill="#111" font-family='"Liberation Serif", serif' >0.1</text>
<text x="221.60" y="395.70" font-size="9.8" text-anchor="middle" font-weight="normal" fill="#111" font-family='"Liberation Serif", serif' >1</text>
<text x="271.20" y="395.70" font-size="9.8" text-anchor="middle" font-weight="normal" fill="#111" font-family='"Liberation Serif", serif' >10</text>
<text x="207.6" y="405.6" font-size="9.8" fill="#111" font-family='"Liberation Sans", sans-serif'>τ<tspan font-size="7.2" dy="2.2">0</tspan><tspan dy="-2.2"> (ns)</tspan></text>
<text transform="translate(162.4,388.6) rotate(-90)" font-size="9.8" fill="#111" font-family='"Liberation Sans", sans-serif'>Distribution function</text>
<line x1="225.40" y1="311.70" x2="245.00" y2="311.70" stroke="#ec1c24" stroke-width="1.0" />
<text x="247.6" y="315.10" font-size="9" fill="#111" font-family='"Liberation Sans", sans-serif'>2.1V<tspan font-size="6.5" dy="2">C</tspan></text>
<line x1="225.40" y1="325.00" x2="245.00" y2="325.00" stroke="#3a69a8" stroke-width="1.0" />
<text x="247.6" y="328.40" font-size="9" fill="#111" font-family='"Liberation Sans", sans-serif'>2.5V<tspan font-size="6.5" dy="2">C</tspan></text>
<line x1="225.40" y1="338.30" x2="245.00" y2="338.30" stroke="#d5a32a" stroke-width="1.0" />
<text x="247.6" y="341.70" font-size="9" fill="#111" font-family='"Liberation Sans", sans-serif'>3.4V<tspan font-size="6.5" dy="2">C</tspan></text>
<text x="349.20" y="242.20" font-size="24" text-anchor="start" font-weight="bold" fill="#000" font-family='"Liberation Sans", sans-serif' >d</text>
<rect x="413.5" y="346.3" width="221.79999999999995" height="64.30000000000001" fill="#f2efe3"/>
<line x1="413.50" y1="346.30" x2="635.30" y2="346.30" stroke="#111" stroke-width="1.3" />
<text x="427.00" y="400.60" font-size="12" text-anchor="start" font-weight="normal" fill="#111" font-family='"Liberation Sans", sans-serif' >System limit</text>
<circle cx="475.60" cy="342.80" r="2.5" fill="url(#bg3)"/>
<line x1="464.50" y1="352.30" x2="568.10" y2="319.00" stroke="#9b36f0" stroke-width="1.6" />
<line x1="477.50" y1="349.00" x2="599.60" y2="296.80" stroke="#25e8ee" stroke-width="1.6" />
<line x1="455.30" y1="353.80" x2="591.40" y2="306.50" stroke="#2020e0" stroke-width="1.6" />
<line x1="492.10" y1="334.60" x2="577.80" y2="286.20" stroke="#ff8a1c" stroke-width="1.6" />
<line x1="465.30" y1="351.10" x2="582.30" y2="267.10" stroke="#f21c1c" stroke-width="1.6" />
<line x1="455.30" y1="352.90" x2="455.30" y2="365.50" stroke="#2020e0" stroke-width="1.0" stroke-opacity="0.75"/>
<line x1="453.30" y1="352.90" x2="457.30" y2="352.90" stroke="#2020e0" stroke-width="1.0" stroke-opacity="0.75"/>
<line x1="453.30" y1="365.50" x2="457.30" y2="365.50" stroke="#2020e0" stroke-width="1.0" stroke-opacity="0.75"/>
<line x1="464.30" y1="350.60" x2="464.30" y2="357.50" stroke="#9b36f0" stroke-width="1.0" stroke-opacity="0.75"/>
<line x1="462.30" y1="350.60" x2="466.30" y2="350.60" stroke="#9b36f0" stroke-width="1.0" stroke-opacity="0.75"/>
<line x1="462.30" y1="357.50" x2="466.30" y2="357.50" stroke="#9b36f0" stroke-width="1.0" stroke-opacity="0.75"/>
<line x1="466.00" y1="339.50" x2="466.00" y2="352.50" stroke="#f21c1c" stroke-width="1.0" stroke-opacity="0.75"/>
<line x1="464.00" y1="339.50" x2="468.00" y2="339.50" stroke="#f21c1c" stroke-width="1.0" stroke-opacity="0.75"/>
<line x1="464.00" y1="352.50" x2="468.00" y2="352.50" stroke="#f21c1c" stroke-width="1.0" stroke-opacity="0.75"/>
<line x1="577.80" y1="281.30" x2="577.80" y2="289.60" stroke="#ff8a1c" stroke-width="1.0" stroke-opacity="0.75"/>
<line x1="575.80" y1="281.30" x2="579.80" y2="281.30" stroke="#ff8a1c" stroke-width="1.0" stroke-opacity="0.75"/>
<line x1="575.80" y1="289.60" x2="579.80" y2="289.60" stroke="#ff8a1c" stroke-width="1.0" stroke-opacity="0.75"/>
<line x1="582.30" y1="258.50" x2="582.30" y2="265.50" stroke="#f21c1c" stroke-width="1.0" stroke-opacity="0.75"/>
<line x1="580.30" y1="258.50" x2="584.30" y2="258.50" stroke="#f21c1c" stroke-width="1.0" stroke-opacity="0.75"/>
<line x1="580.30" y1="265.50" x2="584.30" y2="265.50" stroke="#f21c1c" stroke-width="1.0" stroke-opacity="0.75"/>
<circle cx="464.30" cy="353.60" r="2.5" fill="url(#bg4)"/>
<circle cx="488.80" cy="338.20" r="2.5" fill="url(#bg4)"/>
<circle cx="520.90" cy="336.80" r="2.5" fill="url(#bg4)"/>
<circle cx="568.10" cy="319.00" r="2.5" fill="url(#bg4)"/>
<circle cx="455.30" cy="358.50" r="2.5" fill="url(#bg3)"/>
<circle cx="502.20" cy="329.90" r="2.5" fill="url(#bg3)"/>
<circle cx="539.00" cy="327.80" r="2.5" fill="url(#bg3)"/>
<circle cx="591.40" cy="306.50" r="2.5" fill="url(#bg3)"/>
<circle cx="478.90" cy="347.10" r="2.5" fill="url(#bg5)"/>
<circle cx="506.30" cy="333.30" r="2.5" fill="url(#bg5)"/>
<circle cx="544.80" cy="327.50" r="2.5" fill="url(#bg5)"/>
<circle cx="600.80" cy="294.10" r="2.5" fill="url(#bg5)"/>
<circle cx="466.00" cy="346.30" r="2.5" fill="url(#bg6)"/>
<circle cx="492.30" cy="332.10" r="2.5" fill="url(#bg6)"/>
<circle cx="527.90" cy="312.60" r="2.5" fill="url(#bg6)"/>
<circle cx="582.30" cy="261.90" r="2.5" fill="url(#bg6)"/>
<circle cx="492.30" cy="335.90" r="2.5" fill="url(#bg7)"/>
<circle cx="527.90" cy="314.30" r="2.5" fill="url(#bg7)"/>
<circle cx="577.80" cy="285.30" r="2.5" fill="url(#bg7)"/>
<circle cx="512.30" cy="353.00" r="2.2" fill="url(#bg4)"/>
<text x="527.30" y="356.70" font-size="10.2" text-anchor="start" font-weight="normal" fill="#111" font-family='"Liberation Sans", sans-serif' >100K</text>
<line x1="556.20" y1="353.00" x2="579.20" y2="353.00" stroke="#9b36f0" stroke-width="1.6" />
<text x="582.60" y="356.70" font-size="10.2" text-anchor="start" font-weight="normal" fill="#111" font-family='"Liberation Sans", sans-serif' >100K fitting</text>
<circle cx="512.30" cy="365.60" r="2.2" fill="url(#bg3)"/>
<text x="527.30" y="369.30" font-size="10.2" text-anchor="start" font-weight="normal" fill="#111" font-family='"Liberation Sans", sans-serif' >150K</text>
<line x1="556.20" y1="365.60" x2="579.20" y2="365.60" stroke="#2020e0" stroke-width="1.6" />
<text x="582.60" y="369.30" font-size="10.2" text-anchor="start" font-weight="normal" fill="#111" font-family='"Liberation Sans", sans-serif' >150K fitting</text>
<circle cx="512.30" cy="378.20" r="2.2" fill="url(#bg5)"/>
<text x="527.30" y="381.90" font-size="10.2" text-anchor="start" font-weight="normal" fill="#111" font-family='"Liberation Sans", sans-serif' >200K</text>
<line x1="556.20" y1="378.20" x2="579.20" y2="378.20" stroke="#25e8ee" stroke-width="1.6" />
<text x="582.60" y="381.90" font-size="10.2" text-anchor="start" font-weight="normal" fill="#111" font-family='"Liberation Sans", sans-serif' >200K fitting</text>
<circle cx="512.30" cy="390.80" r="2.2" fill="url(#bg7)"/>
<text x="527.30" y="394.50" font-size="10.2" text-anchor="start" font-weight="normal" fill="#111" font-family='"Liberation Sans", sans-serif' >250K</text>
<line x1="556.20" y1="390.80" x2="579.20" y2="390.80" stroke="#ff8a1c" stroke-width="1.6" />
<text x="582.60" y="394.50" font-size="10.2" text-anchor="start" font-weight="normal" fill="#111" font-family='"Liberation Sans", sans-serif' >250K fitting</text>
<circle cx="512.30" cy="403.40" r="2.2" fill="url(#bg6)"/>
<text x="527.30" y="407.10" font-size="10.2" text-anchor="start" font-weight="normal" fill="#111" font-family='"Liberation Sans", sans-serif' >300K</text>
<line x1="556.20" y1="403.40" x2="579.20" y2="403.40" stroke="#f21c1c" stroke-width="1.6" />
<text x="582.60" y="407.10" font-size="10.2" text-anchor="start" font-weight="normal" fill="#111" font-family='"Liberation Sans", sans-serif' >300K fitting</text>
<rect x="413.5" y="232.6" width="221.79999999999995" height="178.00000000000003" fill="none" stroke="#000" stroke-width="1.2"/>
<line x1="413.50" y1="277.30" x2="417.10" y2="277.30" stroke="#000" stroke-width="1.0" />
<line x1="413.50" y1="321.90" x2="417.10" y2="321.90" stroke="#000" stroke-width="1.0" />
<line x1="413.50" y1="366.50" x2="417.10" y2="366.50" stroke="#000" stroke-width="1.0" />
<text x="409.60" y="236.60" font-size="11" text-anchor="end" font-weight="normal" fill="#111" font-family='"Liberation Sans", sans-serif' >0.8</text>
<text x="409.60" y="281.20" font-size="11" text-anchor="end" font-weight="normal" fill="#111" font-family='"Liberation Sans", sans-serif' >0.4</text>
<text x="409.60" y="325.80" font-size="11" text-anchor="end" font-weight="normal" fill="#111" font-family='"Liberation Sans", sans-serif' >0.0</text>
<text x="409.60" y="370.40" font-size="11" text-anchor="end" font-weight="normal" fill="#111" font-family='"Liberation Sans", sans-serif' >-0.4</text>
<text x="409.60" y="415.00" font-size="11" text-anchor="end" font-weight="normal" fill="#111" font-family='"Liberation Sans", sans-serif' >-0.8</text>
<line x1="524.20" y1="410.60" x2="524.20" y2="407.00" stroke="#000" stroke-width="1.0" />
<text x="413.50" y="423.90" font-size="11" text-anchor="middle" font-weight="normal" fill="#111" font-family='"Liberation Sans", sans-serif' >0.2</text>
<text x="524.20" y="423.90" font-size="11" text-anchor="middle" font-weight="normal" fill="#111" font-family='"Liberation Sans", sans-serif' >0.4</text>
<text x="634.90" y="423.90" font-size="11" text-anchor="middle" font-weight="normal" fill="#111" font-family='"Liberation Sans", sans-serif' >0.6</text>
<text x="498.4" y="436.6" font-size="11" fill="#111" font-family='"Liberation Sans", sans-serif'>1/V<tspan font-size="7.5" dy="2.5">tg-p</tspan><tspan dy="-2.5"> (V</tspan><tspan font-size="7.5" dy="2.5">C</tspan><tspan font-size="7.5" dx="-5.0" dy="-6.6">-1</tspan><tspan dy="4.1">)</tspan></text>
<text transform="translate(385.6,348.2) rotate(-90)" font-size="11" fill="#111" font-family='"Liberation Sans", sans-serif'>log(τ<tspan font-size="7.5" dy="2.5">0</tspan><tspan dy="-2.5">) (ns)</tspan></text>
<rect x="434.2" y="237.3" width="81.80000000000001" height="66.0" fill="#fff" stroke="#222" stroke-width="1.3"/>
<polyline points="442.20,291.90 443.29,291.61 444.39,291.33 445.48,291.04 446.57,290.75 447.67,290.46 448.76,290.17 449.85,289.88 450.95,289.59 452.04,289.29 453.13,289.00 454.23,288.70 455.32,288.41 456.41,288.11 457.51,287.80 458.60,287.50 459.69,287.19 460.79,286.88 461.88,286.56 462.97,286.23 464.07,285.88 465.16,285.52 466.25,285.14 467.35,284.73 468.44,284.30 469.53,283.84 470.63,283.35 471.72,282.82 472.81,282.25 473.91,281.65 475.00,281.00 476.09,280.31 477.19,279.57 478.28,278.79 479.37,277.97 480.47,277.12 481.56,276.24 482.65,275.33 483.75,274.40 484.84,273.44 485.93,272.46 487.03,271.47 488.12,270.47 489.21,269.45 490.31,268.43 491.40,267.40 492.49,266.37 493.59,265.34 494.68,264.31 495.77,263.28 496.87,262.25 497.96,261.22 499.05,260.18 500.15,259.15 501.24,258.11 502.33,257.08 503.43,256.04 504.52,255.01 505.61,253.97 506.71,252.94 507.80,251.90" fill="none" stroke="#2b3ef0" stroke-width="1.35" stroke-linejoin="round" stroke-dasharray="3.6 2.4"/>
<circle cx="441.90" cy="290.93" r="1.9" fill="#f0222a"/>
<circle cx="441.50" cy="290.43" r="0.7" fill="#fff" fill-opacity="0.5"/>
<circle cx="458.42" cy="286.80" r="1.9" fill="#f0222a"/>
<circle cx="458.02" cy="286.30" r="0.7" fill="#fff" fill-opacity="0.5"/>
<circle cx="474.95" cy="281.03" r="1.9" fill="#f0222a"/>
<circle cx="474.55" cy="280.53" r="0.7" fill="#fff" fill-opacity="0.5"/>
<circle cx="491.47" cy="264.53" r="1.9" fill="#f0222a"/>
<circle cx="491.07" cy="264.03" r="0.7" fill="#fff" fill-opacity="0.5"/>
<circle cx="508.00" cy="251.32" r="1.9" fill="#f0222a"/>
<circle cx="507.60" cy="250.82" r="0.7" fill="#fff" fill-opacity="0.5"/>
<line x1="434.20" y1="303.30" x2="432.70" y2="303.30" stroke="#000" stroke-width="0.8" />
<text x="431.60" y="306.00" font-size="7.6" text-anchor="end" font-weight="normal" fill="#111" font-family='"Liberation Sans", sans-serif' >2</text>
<line x1="434.20" y1="286.80" x2="432.70" y2="286.80" stroke="#000" stroke-width="0.8" />
<text x="431.60" y="289.50" font-size="7.6" text-anchor="end" font-weight="normal" fill="#111" font-family='"Liberation Sans", sans-serif' >4</text>
<line x1="434.20" y1="270.30" x2="432.70" y2="270.30" stroke="#000" stroke-width="0.8" />
<text x="431.60" y="273.00" font-size="7.6" text-anchor="end" font-weight="normal" fill="#111" font-family='"Liberation Sans", sans-serif' >6</text>
<line x1="434.20" y1="253.80" x2="432.70" y2="253.80" stroke="#000" stroke-width="0.8" />
<text x="431.60" y="256.50" font-size="7.6" text-anchor="end" font-weight="normal" fill="#111" font-family='"Liberation Sans", sans-serif' >8</text>
<line x1="434.20" y1="237.30" x2="432.70" y2="237.30" stroke="#000" stroke-width="0.8" />
<text x="431.60" y="240.00" font-size="7.6" text-anchor="end" font-weight="normal" fill="#111" font-family='"Liberation Sans", sans-serif' >10</text>
<line x1="441.90" y1="303.30" x2="441.90" y2="301.80" stroke="#000" stroke-width="0.8" />
<text x="441.90" y="310.80" font-size="7.6" text-anchor="middle" font-weight="normal" fill="#111" font-family='"Liberation Sans", sans-serif' >100</text>
<line x1="458.42" y1="303.30" x2="458.42" y2="301.80" stroke="#000" stroke-width="0.8" />
<text x="458.42" y="310.80" font-size="7.6" text-anchor="middle" font-weight="normal" fill="#111" font-family='"Liberation Sans", sans-serif' >150</text>
<line x1="474.95" y1="303.30" x2="474.95" y2="301.80" stroke="#000" stroke-width="0.8" />
<text x="474.95" y="310.80" font-size="7.6" text-anchor="middle" font-weight="normal" fill="#111" font-family='"Liberation Sans", sans-serif' >200</text>
<line x1="491.47" y1="303.30" x2="491.47" y2="301.80" stroke="#000" stroke-width="0.8" />
<text x="491.47" y="310.80" font-size="7.6" text-anchor="middle" font-weight="normal" fill="#111" font-family='"Liberation Sans", sans-serif' >250</text>
<line x1="508.00" y1="303.30" x2="508.00" y2="301.80" stroke="#000" stroke-width="0.8" />
<text x="508.00" y="310.80" font-size="7.6" text-anchor="middle" font-weight="normal" fill="#111" font-family='"Liberation Sans", sans-serif' >300</text>
<text x="447.00" y="319.80" font-size="7.85" text-anchor="start" font-weight="normal" fill="#111" font-family='"Liberation Sans", sans-serif' >Temperature (K)</text>
<text transform="translate(423.0,303.0) rotate(-90)" font-size="7.6" fill="#111" font-family='"Liberation Sans", sans-serif'>Activation field (E<tspan font-size="5.5" dy="1.8">C</tspan><tspan dy="-1.8">)</tspan></text>
<text x="353.00" y="17.90" font-size="24" text-anchor="start" font-weight="bold" fill="#000" font-family='"Liberation Sans", sans-serif' >b</text>
<line x1="379.40" y1="119.16" x2="527.10" y2="109.98" stroke="#9c9c9c" stroke-width="0.7" stroke-dasharray="2.0 1.7"/>
<line x1="527.10" y1="109.98" x2="600.00" y2="140.42" stroke="#9c9c9c" stroke-width="0.7" stroke-dasharray="2.0 1.7"/>
<line x1="379.20" y1="103.52" x2="527.10" y2="95.06" stroke="#9c9c9c" stroke-width="0.7" stroke-dasharray="2.0 1.7"/>
<line x1="527.10" y1="95.06" x2="600.40" y2="122.54" stroke="#9c9c9c" stroke-width="0.7" stroke-dasharray="2.0 1.7"/>
<line x1="379.00" y1="87.88" x2="527.10" y2="80.14" stroke="#9c9c9c" stroke-width="0.7" stroke-dasharray="2.0 1.7"/>
<line x1="527.10" y1="80.14" x2="600.80" y2="104.66" stroke="#9c9c9c" stroke-width="0.7" stroke-dasharray="2.0 1.7"/>
<line x1="378.80" y1="72.24" x2="527.10" y2="65.22" stroke="#9c9c9c" stroke-width="0.7" stroke-dasharray="2.0 1.7"/>
<line x1="527.10" y1="65.22" x2="601.20" y2="86.78" stroke="#9c9c9c" stroke-width="0.7" stroke-dasharray="2.0 1.7"/>
<line x1="395.20" y1="133.75" x2="394.31" y2="55.93" stroke="#9c9c9c" stroke-width="0.7" stroke-dasharray="2.0 1.7"/>
<line x1="463.60" y1="129.16" x2="463.17" y2="53.01" stroke="#9c9c9c" stroke-width="0.7" stroke-dasharray="2.0 1.7"/>
<line x1="583.23" y1="150.76" x2="584.78" y2="64.70" stroke="#9c9c9c" stroke-width="0.7" stroke-dasharray="2.0 1.7"/>
<line x1="568.02" y1="143.75" x2="569.15" y2="60.80" stroke="#9c9c9c" stroke-width="0.7" stroke-dasharray="2.0 1.7"/>
<line x1="553.87" y1="137.23" x2="554.61" y2="57.17" stroke="#9c9c9c" stroke-width="0.7" stroke-dasharray="2.0 1.7"/>
<line x1="540.65" y1="131.14" x2="541.03" y2="53.78" stroke="#9c9c9c" stroke-width="0.7" stroke-dasharray="2.0 1.7"/>
<line x1="413.59" y1="165.92" x2="583.23" y2="150.76" stroke="#9c9c9c" stroke-width="0.7" stroke-dasharray="2.0 1.7"/>
<line x1="404.38" y1="157.49" x2="568.02" y2="143.75" stroke="#9c9c9c" stroke-width="0.7" stroke-dasharray="2.0 1.7"/>
<line x1="395.81" y1="149.64" x2="553.87" y2="137.23" stroke="#9c9c9c" stroke-width="0.7" stroke-dasharray="2.0 1.7"/>
<line x1="387.81" y1="142.32" x2="540.65" y2="131.14" stroke="#9c9c9c" stroke-width="0.7" stroke-dasharray="2.0 1.7"/>
<line x1="442.30" y1="173.22" x2="395.20" y2="133.75" stroke="#d0d0d0" stroke-width="0.6" />
<line x1="524.60" y1="165.41" x2="463.60" y2="129.16" stroke="#d0d0d0" stroke-width="0.6" />
<line x1="379.60" y1="134.80" x2="378.60" y2="56.60" stroke="#111" stroke-width="1.3" stroke-linecap="square"/>
<line x1="378.60" y1="56.60" x2="527.10" y2="50.30" stroke="#111" stroke-width="1.3" stroke-linecap="square"/>
<line x1="527.10" y1="50.30" x2="601.60" y2="68.90" stroke="#111" stroke-width="1.3" stroke-linecap="square"/>
<line x1="527.10" y1="50.30" x2="527.10" y2="124.90" stroke="#111" stroke-width="1.3" stroke-linecap="square"/>
<line x1="379.60" y1="134.80" x2="527.10" y2="124.90" stroke="#111" stroke-width="1.3" stroke-linecap="square"/>
<line x1="527.10" y1="124.90" x2="599.60" y2="158.30" stroke="#111" stroke-width="1.3" stroke-linecap="square"/>
<polygon points="381.20,65.90 390.00,60.30 402.90,64.60 413.40,62.70 415.80,58.70 432.60,60.30 439.90,55.90 451.90,60.60 456.70,56.60 466.40,58.70 472.80,58.20 480.00,60.30 492.80,60.10 525.70,60.10 554.20,57.50 562.90,60.80 600.10,68.90 573.90,71.30 556.30,71.70 525.70,72.80 492.80,74.00 479.60,75.20 467.20,81.20 461.00,84.00 456.50,94.20 450.30,99.80 446.40,102.70 444.10,116.00 441.20,135.70 438.10,139.80 432.50,143.30 421.40,169.70 413.20,144.40 408.60,141.90 402.80,140.30 401.50,118.50 398.50,102.20 396.50,98.00 395.40,90.00 394.10,83.50 389.30,71.50" fill="url(#gsurf)" stroke="none" stroke-width="1.0" />
<polygon points="466.40,58.70 472.80,58.20 480.00,60.30 492.80,60.10 525.70,60.10 554.20,57.50 562.90,60.80 600.10,68.90 573.90,71.30 556.30,71.70 525.70,72.80 492.80,74.00 479.60,75.20 467.20,81.20" fill="url(#gplat)" stroke="none" stroke-width="1.0" />
<polygon points="415.80,58.70 432.60,60.30 439.90,55.90 451.90,60.60 456.70,56.60 466.40,58.70 480.00,60.30 492.00,66.00 470.00,70.00 440.00,66.00 420.00,64.00" fill="#6a0000" stroke="none" stroke-width="1.0" fill-opacity="0.25"/>
<polygon points="466.00,59.00 480.00,60.50 500.00,65.50 520.00,65.80 540.00,63.50 560.00,62.60 580.00,65.60 598.00,69.00 575.00,67.60 545.00,66.60 520.00,68.40 498.00,68.80 478.00,63.20" fill="#b01010" stroke="none" stroke-width="1.0" fill-opacity="0.45"/>
<polygon points="482.00,74.40 500.00,73.60 525.00,72.60 556.00,71.60 574.00,71.20 560.00,69.80 530.00,70.40 500.00,71.40" fill="#a00808" stroke="none" stroke-width="1.0" fill-opacity="0.4"/>
<polygon points="415.80,58.70 425.00,62.00 440.00,66.00 455.00,68.00 470.00,67.00 452.00,63.00 439.90,55.90 432.60,60.30" fill="#c01010" stroke="none" stroke-width="1.0" fill-opacity="0.3"/>
<line x1="423.50" y1="175.00" x2="599.60" y2="158.30" stroke="#111" stroke-width="1.3" stroke-linecap="square"/>
<line x1="379.60" y1="134.80" x2="423.50" y2="175.00" stroke="#111" stroke-width="1.3" stroke-linecap="square"/>
<line x1="599.60" y1="158.30" x2="601.60" y2="68.90" stroke="#111" stroke-width="1.3" stroke-linecap="square"/>
<line x1="423.50" y1="175.00" x2="423.50" y2="172.60" stroke="#111" stroke-width="0.9" />
<line x1="429.17" y1="174.46" x2="429.17" y2="172.06" stroke="#111" stroke-width="0.9" />
<line x1="434.09" y1="174.00" x2="434.09" y2="171.60" stroke="#111" stroke-width="0.9" />
<line x1="438.42" y1="173.58" x2="438.42" y2="171.18" stroke="#111" stroke-width="0.9" />
<line x1="442.30" y1="173.22" x2="442.30" y2="169.42" stroke="#111" stroke-width="0.9" />
<line x1="467.07" y1="170.87" x2="467.07" y2="168.47" stroke="#111" stroke-width="0.9" />
<line x1="481.57" y1="169.49" x2="481.57" y2="167.09" stroke="#111" stroke-width="0.9" />
<line x1="491.85" y1="168.52" x2="491.85" y2="166.12" stroke="#111" stroke-width="0.9" />
<line x1="499.83" y1="167.76" x2="499.83" y2="165.36" stroke="#111" stroke-width="0.9" />
<line x1="506.34" y1="167.14" x2="506.34" y2="164.74" stroke="#111" stroke-width="0.9" />
<line x1="511.85" y1="166.62" x2="511.85" y2="164.22" stroke="#111" stroke-width="0.9" />
<line x1="516.62" y1="166.17" x2="516.62" y2="163.77" stroke="#111" stroke-width="0.9" />
<line x1="520.83" y1="165.77" x2="520.83" y2="163.37" stroke="#111" stroke-width="0.9" />
<line x1="524.60" y1="165.41" x2="524.60" y2="161.61" stroke="#111" stroke-width="0.9" />
<line x1="547.36" y1="163.25" x2="547.36" y2="160.85" stroke="#111" stroke-width="0.9" />
<line x1="560.67" y1="161.99" x2="560.67" y2="159.59" stroke="#111" stroke-width="0.9" />
<line x1="570.12" y1="161.10" x2="570.12" y2="158.70" stroke="#111" stroke-width="0.9" />
<line x1="577.44" y1="160.40" x2="577.44" y2="158.00" stroke="#111" stroke-width="0.9" />
<line x1="583.43" y1="159.83" x2="583.43" y2="157.43" stroke="#111" stroke-width="0.9" />
<line x1="588.49" y1="159.35" x2="588.49" y2="156.95" stroke="#111" stroke-width="0.9" />
<line x1="592.87" y1="158.94" x2="592.87" y2="156.54" stroke="#111" stroke-width="0.9" />
<line x1="596.74" y1="158.57" x2="596.74" y2="156.17" stroke="#111" stroke-width="0.9" />
<line x1="423.50" y1="175.00" x2="423.50" y2="171.40" stroke="#111" stroke-width="0.9" />
<line x1="418.45" y1="170.38" x2="418.45" y2="167.48" stroke="#111" stroke-width="0.9" />
<line x1="413.59" y1="165.92" x2="413.59" y2="162.32" stroke="#111" stroke-width="0.9" />
<line x1="408.90" y1="161.63" x2="408.90" y2="158.73" stroke="#111" stroke-width="0.9" />
<line x1="404.38" y1="157.49" x2="404.38" y2="153.89" stroke="#111" stroke-width="0.9" />
<line x1="400.02" y1="153.50" x2="400.02" y2="150.60" stroke="#111" stroke-width="0.9" />
<line x1="395.81" y1="149.64" x2="395.81" y2="146.04" stroke="#111" stroke-width="0.9" />
<line x1="391.74" y1="145.92" x2="391.74" y2="143.02" stroke="#111" stroke-width="0.9" />
<line x1="387.81" y1="142.32" x2="387.81" y2="138.72" stroke="#111" stroke-width="0.9" />
<line x1="384.00" y1="138.83" x2="384.00" y2="135.93" stroke="#111" stroke-width="0.9" />
<line x1="380.32" y1="135.46" x2="380.32" y2="131.86" stroke="#111" stroke-width="0.9" />
<line x1="599.60" y1="158.30" x2="596.20" y2="158.30" stroke="#111" stroke-width="0.9" />
<line x1="600.00" y1="140.42" x2="596.60" y2="140.42" stroke="#111" stroke-width="0.9" />
<line x1="600.40" y1="122.54" x2="597.00" y2="122.54" stroke="#111" stroke-width="0.9" />
<line x1="600.80" y1="104.66" x2="597.40" y2="104.66" stroke="#111" stroke-width="0.9" />
<line x1="601.20" y1="86.78" x2="597.80" y2="86.78" stroke="#111" stroke-width="0.9" />
<line x1="601.60" y1="68.90" x2="598.20" y2="68.90" stroke="#111" stroke-width="0.9" />
<text x="606.20" y="162.20" font-size="10.8" text-anchor="start" font-weight="normal" fill="#111" font-family='"Liberation Sans", sans-serif' >0.0</text>
<text x="606.20" y="144.32" font-size="10.8" text-anchor="start" font-weight="normal" fill="#111" font-family='"Liberation Sans", sans-serif' >0.2</text>
<text x="606.20" y="126.44" font-size="10.8" text-anchor="start" font-weight="normal" fill="#111" font-family='"Liberation Sans", sans-serif' >0.4</text>
<text x="606.20" y="108.56" font-size="10.8" text-anchor="start" font-weight="normal" fill="#111" font-family='"Liberation Sans", sans-serif' >0.6</text>
<text x="606.20" y="90.68" font-size="10.8" text-anchor="start" font-weight="normal" fill="#111" font-family='"Liberation Sans", sans-serif' >0.8</text>
<text x="606.20" y="72.80" font-size="10.8" text-anchor="start" font-weight="normal" fill="#111" font-family='"Liberation Sans", sans-serif' >1.0</text>
<text x="439.60" y="187.60" font-size="10.5" text-anchor="start" font-weight="normal" fill="#111" font-family='"Liberation Sans", sans-serif' >1</text>
<text x="519.00" y="180.30" font-size="10.5" text-anchor="start" font-weight="normal" fill="#111" font-family='"Liberation Sans", sans-serif' >10</text>
<text x="592.80" y="172.80" font-size="10.5" text-anchor="start" font-weight="normal" fill="#111" font-family='"Liberation Sans", sans-serif' >100</text>
<text x="411.20" y="187.60" font-size="11.0" text-anchor="start" font-weight="normal" fill="#111" font-family='"Liberation Sans", sans-serif' >2.0</text>
<text x="402.00" y="177.80" font-size="10.7" text-anchor="start" font-weight="normal" fill="#111" font-family='"Liberation Sans", sans-serif' >2.5</text>
<text x="393.40" y="169.20" font-size="10.4" text-anchor="start" font-weight="normal" fill="#111" font-family='"Liberation Sans", sans-serif' >3.0</text>
<text x="384.70" y="160.60" font-size="10.1" text-anchor="start" font-weight="normal" fill="#111" font-family='"Liberation Sans", sans-serif' >3.5</text>
<text x="378.00" y="153.30" font-size="9.8" text-anchor="start" font-weight="normal" fill="#111" font-family='"Liberation Sans", sans-serif' >4.0</text>
<text x="370.30" y="146.50" font-size="9.5" text-anchor="start" font-weight="normal" fill="#111" font-family='"Liberation Sans", sans-serif' >4.5</text>
<text transform="translate(481.0,198.2) rotate(-3.9)" font-size="12" fill="#111" font-family='"Liberation Sans", sans-serif'>Pulse Width (ns)</text>
<text transform="translate(359.0,154.2) rotate(41)" font-size="10.3" fill="#111" font-family='"Liberation Sans", sans-serif'>Voltage (V<tspan font-size="7" dy="2.3">C</tspan><tspan dy="-2.3">)</tspan></text>
<text transform="translate(626.6,85.0) rotate(90)" font-size="11" fill="#111" font-family='"Liberation Sans", sans-serif'>ΔG/ΔG<tspan font-size="7.5" dy="2.5">max</tspan></text>
<rect x="651.9" y="42.3" width="11.800000000000068" height="152.60000000000002" fill="url(#gbar)" stroke="#333" stroke-width="0.6"/>
<text x="666.30" y="198.10" font-size="8.6" text-anchor="start" font-weight="normal" fill="#111" font-family='"Liberation Sans", sans-serif' >0.0</text>
<line x1="660.70" y1="164.38" x2="663.70" y2="164.38" stroke="#222" stroke-width="0.9" />
<text x="666.30" y="167.58" font-size="8.6" text-anchor="start" font-weight="normal" fill="#111" font-family='"Liberation Sans", sans-serif' >0.2</text>
<line x1="660.70" y1="133.86" x2="663.70" y2="133.86" stroke="#222" stroke-width="0.9" />
<text x="666.30" y="137.06" font-size="8.6" text-anchor="start" font-weight="normal" fill="#111" font-family='"Liberation Sans", sans-serif' >0.4</text>
<line x1="660.70" y1="103.34" x2="663.70" y2="103.34" stroke="#222" stroke-width="0.9" />
<text x="666.30" y="106.54" font-size="8.6" text-anchor="start" font-weight="normal" fill="#111" font-family='"Liberation Sans", sans-serif' >0.6</text>
<line x1="660.70" y1="72.82" x2="663.70" y2="72.82" stroke="#222" stroke-width="0.9" />
<text x="666.30" y="76.02" font-size="8.6" text-anchor="start" font-weight="normal" fill="#111" font-family='"Liberation Sans", sans-serif' >0.8</text>
<text x="666.30" y="45.50" font-size="8.6" text-anchor="start" font-weight="normal" fill="#111" font-family='"Liberation Sans", sans-serif' >1.0</text>
<text x="630.0" y="30.7" font-size="12" fill="#111" font-family='"Liberation Sans", sans-serif'>ΔG/ΔG<tspan font-size="9" dy="3">max</tspan></text>
</svg>
</body></html>
